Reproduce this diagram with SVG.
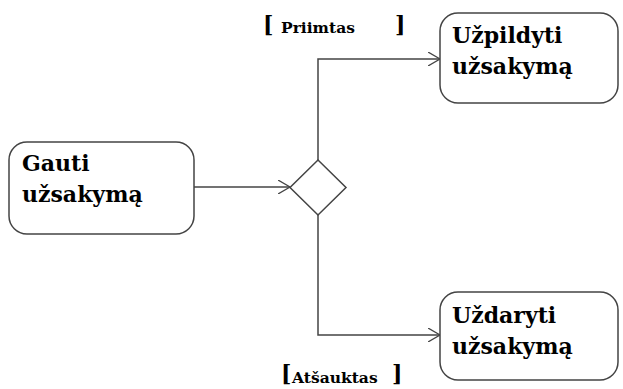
<svg xmlns="http://www.w3.org/2000/svg" width="623" height="389" viewBox="0 0 623 389">
  <style>
    .node { fill: #ffffff; stroke: #444444; stroke-width: 1.5; }
    .title { font-family: "DejaVu Serif", "Liberation Serif", serif; font-weight: bold; font-size: 22px; fill: #000000; }
    .guard { font-family: "DejaVu Serif", "Liberation Serif", serif; font-size: 15.5px; font-weight: bold; fill: #000000; }
    .bracket { font-family: "DejaVu Serif", "Liberation Serif", serif; font-size: 22px; font-weight: bold; fill: #000000; }
    .edge { fill: none; stroke: #444444; stroke-width: 1.5; }
  </style>
  <defs>
    <marker id="open" viewBox="0 0 12 14" refX="12" refY="7" markerWidth="12" markerHeight="14" markerUnits="userSpaceOnUse" orient="auto">
      <path d="M0,0 L12,7 L0,14" fill="none" stroke="#444444" stroke-width="1.3"/>
    </marker>
  </defs>

  <g id="connectors">
    <path class="edge" d="M194,187 L290,187" marker-end="url(#open)"/>
    <path class="edge" d="M318,160 L318,59 L440,59" marker-end="url(#open)"/>
    <path class="edge" d="M318,215 L318,335 L440,335" marker-end="url(#open)"/>
  </g>

  <g id="gauti">
    <rect class="node" x="9" y="142" width="185" height="92" rx="18"/>
    <text class="title" x="22" y="171">Gauti</text>
    <text class="title" x="22" y="202">užsakymą</text>
  </g>

  <g id="decision">
    <polygon class="node" points="318,160 346,187.5 318,215 290,187.5"/>
  </g>

  <g id="uzpildyti">
    <rect class="node" x="440" y="13" width="178" height="90" rx="18"/>
    <text class="title" x="452" y="43">Užpildyti</text>
    <text class="title" x="452" y="74">užsakymą</text>
  </g>

  <g id="uzdaryti">
    <rect class="node" x="440" y="292" width="178" height="88" rx="18"/>
    <text class="title" x="452" y="323">Uždaryti</text>
    <text class="title" x="452" y="354">užsakymą</text>
  </g>

  <g id="guard-priimtas">
    <text class="bracket" x="263" y="32">[</text>
    <text class="guard" x="281" y="33">Priimtas</text>
    <text class="bracket" x="395" y="32">]</text>
  </g>

  <g id="guard-atsauktas">
    <text class="bracket" x="281" y="381">[</text>
    <text class="guard" x="292" y="383">Atšauktas</text>
    <text class="bracket" x="392" y="381">]</text>
  </g>
</svg>
